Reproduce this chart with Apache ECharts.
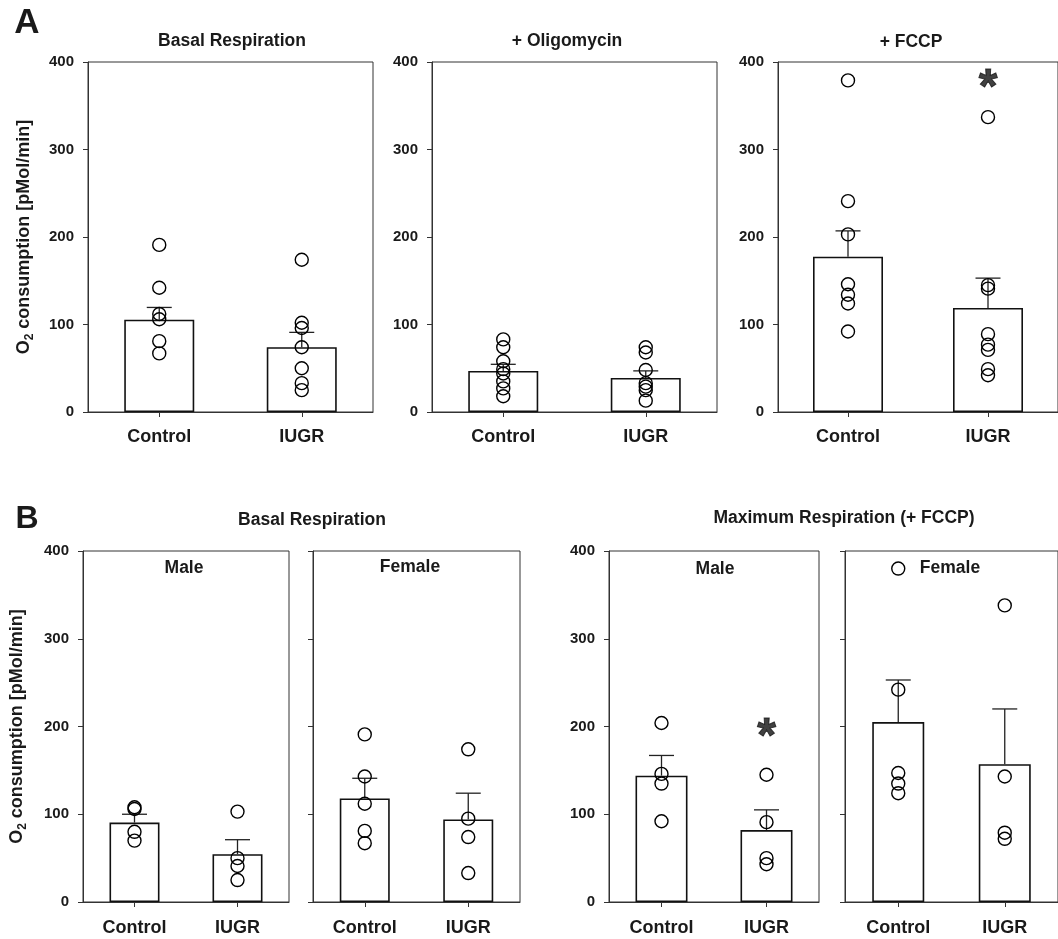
<!DOCTYPE html>
<html>
<head>
<meta charset="utf-8">
<script src="https://cdn.jsdelivr.net/npm/echarts@6/dist/echarts.min.js"></script>
<style>
html,body{margin:0;padding:0;background:#fff;}
#chart{width:1058px;height:939px;}
</style>
</head>
<body>
<div id="chart"></div>
<script>
// ---------- DATA ----------
const categories = ['Control', 'IUGR'];
const yMin = 0, yMax = 400, yStep = 100;

// Panel A – all animals
const basalMean = [105.5, 74];
const basalErr = [119.5, 91];
const basalControlPts = [191, 142, 112, 106, 81, 67];
const basalIugrPts = [174, 102, 96, 74, 50, 33, 25];

const oligoMean = [47, 39];
const oligoErr = [54.5, 47];
const oligoControlPts = [83, 74, 58, 49, 44, 35, 27, 18];
const oligoIugrPts = [74, 68, 48, 33, 29, 25, 13];

const fccpMean = [177.5, 119];
const fccpErr = [207, 153];
const fccpControlPts = [379, 241, 203, 146, 134, 124, 92];
const fccpIugrPts = [337, 145, 141, 89, 77, 71, 49, 42];
const fccpStar = [1, 369];

// Panel B – by sex
const basalMaleMean = [90.5, 54.5];
const basalMaleErr = [100, 71];
const basalMaleControlPts = [108, 106, 80, 70];
const basalMaleIugrPts = [103, 50, 41, 25];

const basalFemaleMean = [118, 94];
const basalFemaleErr = [141, 124];
const basalFemaleControlPts = [191, 143, 112, 81, 67];
const basalFemaleIugrPts = [174, 95, 74, 33];

const maxMaleMean = [144, 82];
const maxMaleErr = [167, 105];
const maxMaleControlPts = [204, 146, 135, 92];
const maxMaleIugrPts = [145, 91, 50, 43];
const maxMaleStar = [1, 187];

const maxFemaleMean = [205, 157];
const maxFemaleErr = [253, 220];
const maxFemaleControlPts = [380, 242, 147, 135, 124];
const maxFemaleIugrPts = [338, 143, 79, 72];

// ---------- LAYOUT / STYLE ----------
const FONT = '"Liberation Sans", Arial, Helvetica, sans-serif';
const TXT = '#1a1a1a';
const AX = '#333';

const panels = [
  {grid: {left: 88, top: 62, width: 285, height: 350}, mean: basalMean, err: basalErr, pts: [basalControlPts, basalIugrPts], barWidth: 70, yLabels: true, yName: true, xMargin: 16, nameGap: 52},
  {grid: {left: 432, top: 62, width: 285, height: 350}, mean: oligoMean, err: oligoErr, pts: [oligoControlPts, oligoIugrPts], barWidth: 70, yLabels: true, xMargin: 16},
  {grid: {left: 778, top: 62, width: 285, height: 350}, mean: fccpMean, err: fccpErr, pts: [fccpControlPts, fccpIugrPts], barWidth: 70, yLabels: true, star: fccpStar, xMargin: 16},
  {grid: {left: 83, top: 551, width: 206, height: 351}, mean: basalMaleMean, err: basalMaleErr, pts: [basalMaleControlPts, basalMaleIugrPts], barWidth: 50, yLabels: true, yName: true, xMargin: 17, nameGap: 54},
  {grid: {left: 313, top: 551, width: 207, height: 351}, mean: basalFemaleMean, err: basalFemaleErr, pts: [basalFemaleControlPts, basalFemaleIugrPts], barWidth: 50, yLabels: false, xMargin: 17},
  {grid: {left: 609, top: 551, width: 210, height: 351}, mean: maxMaleMean, err: maxMaleErr, pts: [maxMaleControlPts, maxMaleIugrPts], barWidth: 52, yLabels: true, star: maxMaleStar, xMargin: 17},
  {grid: {left: 845, top: 551, width: 214, height: 351}, mean: maxFemaleMean, err: maxFemaleErr, pts: [maxFemaleControlPts, maxFemaleIugrPts], barWidth: 52, yLabels: false, xMargin: 17}
];

const grids = [], xAxes = [], yAxes = [], series = [];

panels.forEach((p, i) => {
  grids.push(Object.assign({show: true, borderColor: AX, borderWidth: 1, backgroundColor: 'transparent', containLabel: false}, p.grid));
  xAxes.push({
    type: 'category', gridIndex: i, data: categories,
    axisLine: {lineStyle: {color: AX, width: 1}},
    axisTick: {show: true, alignWithLabel: true, length: 5, lineStyle: {color: AX}},
    axisLabel: {fontFamily: FONT, fontWeight: 'bold', fontSize: 18, color: TXT, margin: p.xMargin},
    splitLine: {show: false}
  });
  const y = {
    type: 'value', gridIndex: i, min: yMin, max: yMax, interval: yStep,
    axisLine: {show: true, lineStyle: {color: AX, width: 1}},
    axisTick: {show: true, length: 5, lineStyle: {color: AX}},
    axisLabel: {show: p.yLabels, fontFamily: FONT, fontWeight: 'bold', fontSize: 15, color: TXT, margin: 14},
    splitLine: {show: false}
  };
  if (p.yName) {
    y.name = '{a|O}{b|2}{a| consumption [pMol/min]}';
    y.nameLocation = 'middle';
    y.nameRotate = 90;
    y.nameGap = p.nameGap;
    y.nameTextStyle = {
      color: TXT,
      rich: {
        a: {fontFamily: FONT, fontWeight: 'bold', fontSize: 18, color: TXT, lineHeight: 24},
        b: {fontFamily: FONT, fontWeight: 'bold', fontSize: 12, color: TXT, lineHeight: 24, verticalAlign: 'bottom'}
      }
    };
  }
  yAxes.push(y);

  series.push({
    type: 'bar', xAxisIndex: i, yAxisIndex: i, data: p.mean, barWidth: p.barWidth,
    itemStyle: {color: '#fff', borderColor: '#111', borderWidth: 1.6},
    emphasis: {disabled: true}, silent: true, z: 2
  });
  series.push({
    type: 'custom', xAxisIndex: i, yAxisIndex: i, z: 3, silent: true,
    data: p.err.map((e, k) => [k, e, p.mean[k]]),
    renderItem: function (params, api) {
      const a = api.coord([api.value(0), api.value(2)]);
      const b = api.coord([api.value(0), api.value(1)]);
      const st = {stroke: '#222', lineWidth: 1.3};
      return {type: 'group', children: [
        {type: 'line', shape: {x1: a[0], y1: a[1], x2: b[0], y2: b[1]}, style: st},
        {type: 'line', shape: {x1: b[0] - 12.5, y1: b[1], x2: b[0] + 12.5, y2: b[1]}, style: st}
      ]};
    }
  });
  p.pts.forEach((arr, k) => {
    series.push({
      type: 'scatter', xAxisIndex: i, yAxisIndex: i, z: 4, silent: true,
      data: arr.map(v => [k, v]),
      symbol: 'circle', symbolSize: 13,
      itemStyle: {color: 'rgba(255,255,255,0)', borderColor: '#000', borderWidth: 1.4, opacity: 1}
    });
  });
  if (p.star) {
    series.push({
      type: 'scatter', xAxisIndex: i, yAxisIndex: i, z: 5, silent: true,
      data: [p.star], symbolSize: 0,
      label: {show: true, position: 'inside', formatter: '*', fontFamily: FONT, fontWeight: 'bold', fontSize: 48, color: '#111', textBorderColor: '#111', textBorderWidth: 1}
    });
  }
});

const txt = (x, y, text, size, extra) => Object.assign({
  type: 'text', x: x, y: y, silent: true,
  style: {text: text, fontFamily: FONT, fontWeight: 'bold', fontSize: size, fill: TXT, textAlign: 'center', textVerticalAlign: 'middle'}
}, extra || {});

const graphic = [
  txt(27, 23, 'A', 35),
  txt(27, 519, 'B', 32),
  txt(232, 41, 'Basal Respiration', 17.5),
  txt(567, 41, '+ Oligomycin', 17.5),
  txt(911, 42, '+ FCCP', 17.5),
  txt(312, 520, 'Basal Respiration', 17.5),
  txt(844, 518, 'Maximum Respiration (+ FCCP)', 17.5),
  txt(184, 568, 'Male', 17.5),
  txt(410, 567, 'Female', 17.5),
  txt(715, 569, 'Male', 17.5),
  txt(950, 568, 'Female', 17.5)
];

const chart = echarts.init(document.getElementById('chart'), null, {renderer: 'canvas'});
chart.setOption({
  animation: false,
  backgroundColor: '#fff',
  grid: grids, xAxis: xAxes, yAxis: yAxes, series: series, graphic: graphic
});
</script>
</body>
</html>
